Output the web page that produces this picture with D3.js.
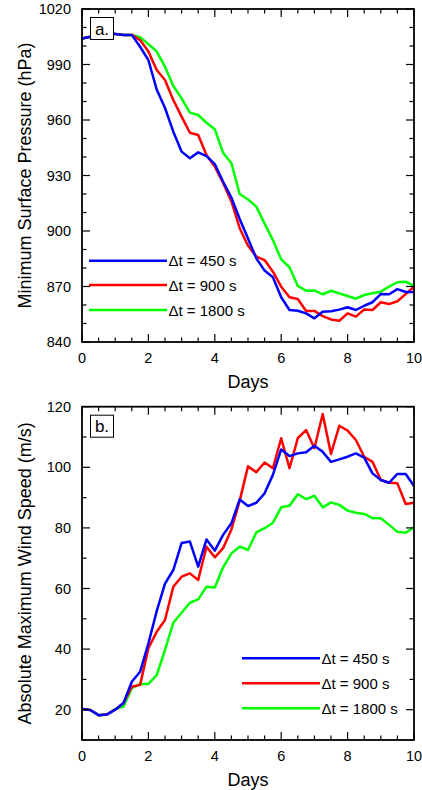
<!DOCTYPE html>
<html>
<head>
<meta charset="utf-8">
<script src="https://cdn.jsdelivr.net/npm/d3@7"></script>
<style>
  body { margin: 0; background: #fff; }
  svg text { font-family: "Liberation Sans", Arial, Helvetica, sans-serif; fill: #000; }
</style>
</head>
<body>
<svg id="chart" width="422" height="790"></svg>
<script>
const days = [0, 0.25, 0.5, 0.75, 1, 1.25, 1.5, 1.75, 2, 2.25, 2.5, 2.75, 3, 3.25, 3.5, 3.75, 4, 4.25, 4.5, 4.75,
  5, 5.25, 5.5, 5.75, 6, 6.25, 6.5, 6.75, 7, 7.25, 7.5, 7.75, 8, 8.25, 8.5, 8.75, 9, 9.25, 9.5, 9.75, 10];

const seriesLabels = ['Δt = 450 s', 'Δt = 900 s', 'Δt = 1800 s'];
const seriesColors = ['#0000ff', '#ff0000', '#00ff00'];

// panel a: minimum surface pressure (hPa)
const pres450 = [1004, 1005, 1006.3, 1007, 1006.5, 1006, 1006, 999.6, 992.4, 976.5, 966.5, 953.7, 942.9, 939.3, 942.5, 940.5,
  936.2, 926.6, 918, 906.5, 896, 885.2, 878.6, 875, 864.2, 857.3, 856.9, 855.5, 852.8, 856.4, 856.6, 857.5, 858.8, 857.3,
  859.6, 861.5, 865.9, 865.8, 868.6, 867, 867];
const pres900 = [1004, 1005, 1006.3, 1007, 1006.5, 1006, 1006, 1003.2, 997, 987, 981.6, 970.8, 961.8, 953.1, 951.9, 941.1,
  934.8, 926, 916, 901.5, 892, 886.2, 884.3, 878, 869.9, 864.2, 863.2, 856.8, 856.8, 854, 852.2, 851.5, 855.5, 853.7,
  857.6, 857.3, 861.5, 860.5, 862, 865.9, 869.9];
const pres1800 = [1004, 1005, 1006.3, 1007, 1006.5, 1006, 1006, 1004.7, 1001, 997, 988.8, 978.4, 971.7, 964, 962.7, 958.5,
  955, 942.3, 936.6, 920, 917, 913.2, 904, 895.1, 884.7, 880.4, 870.3, 867.7, 867.9, 865.8, 867.7, 866.3, 864.9, 863.4,
  865.4, 866.3, 867.2, 869.9, 872.3, 872.6, 870.3];

// panel b: absolute maximum wind speed (m/s)
const wind450 = [20.2, 19.9, 18.2, 18.4, 20, 22.2, 29.2, 32.5, 41.9, 52.5, 61.6, 66.1, 75, 75.5, 67.2, 76.2, 72.5, 77.7,
  81.5, 89.4, 87.2, 88.3, 91.4, 97.5, 105.9, 103.7, 104.6, 105, 107.1, 105.1, 101.8, 102.6, 103.5, 104.6, 103.2, 98,
  95.8, 94.9, 97.8, 97.8, 93.8];
const wind900 = [20.2, 19.9, 18.2, 18.5, 20, 22.2, 27.6, 28.2, 40.3, 45.7, 49.6, 60.6, 63.9, 65, 62.8, 73.8, 70.3, 73.3,
  79.5, 89, 100.3, 98.4, 101.6, 99.7, 109.6, 99.7, 109.6, 112.3, 106.3, 117.6, 104.4, 113.7, 112.1, 109, 103.5, 101.8,
  95.8, 94.9, 94.7, 87.9, 88.3];
const wind1800 = [20.2, 19.9, 18.2, 18.4, 20.2, 21, 27.1, 28.5, 28.5, 31.4, 39.7, 48.7, 52, 55.3, 56.4, 60.6, 60.3, 67,
  71.6, 73.8, 72.7, 78.5, 79.9, 81.7, 86.8, 87.3, 91.1, 89.5, 90.6, 86.8, 88.4, 87.6, 85.7, 85, 84.6, 83.2, 83.2, 81,
  78.7, 78.4, 80.2];

const xTicks = [0, 2, 4, 6, 8, 10];
const presTicks = [840, 870, 900, 930, 960, 990, 1020];
const windTicks = [20, 40, 60, 80, 100, 120];

const svg = d3.select('#chart');
const left = 82;
const right = 414;

const panels = [
  {
    top: 9, bottom: 342, domain: [840, 1020], ticks: presTicks, minorStep: 10,
    series: [pres450, pres900, pres1800], tag: 'a.', title: 'Minimum Surface Pressure (hPa)',
    legend: { x1: 89, x2: 167, ys: [260.7, 285, 310] },
  },
  {
    top: 406.7, bottom: 740, domain: [10, 120], ticks: windTicks, minorStep: 10,
    series: [wind450, wind900, wind1800], tag: 'b.', title: 'Absolute Maximum Wind Speed (m/s)',
    legend: { x1: 242, x2: 320, ys: [658.3, 683.3, 708.3] },
  },
];

const xScale = d3.scaleLinear().domain([0, 10]).range([left, right]);
const xMinor = d3.range(0, 10.001, 0.5);

panels.forEach((p) => {
  const g = svg.append('g');
  const yScale = d3.scaleLinear().domain(p.domain).range([p.bottom, p.top]);
  const yMinor = d3.range(p.domain[0], p.domain[1] + 0.001, p.minorStep);

  // data lines, clipped to the frame
  const clipId = 'clip-' + p.tag.replace('.', '');
  g.append('clipPath').attr('id', clipId)
    .append('rect').attr('x', left).attr('y', p.top).attr('width', right - left).attr('height', p.bottom - p.top);

  const line = d3.line().x((d) => xScale(d.day)).y((d) => yScale(d.value));
  const lines = g.append('g').attr('clip-path', `url(#${clipId})`);
  // draw green, red, blue so blue sits on top
  [2, 1, 0].forEach((i) => {
    const data = days.map((day, k) => ({ day, value: p.series[i][k] }));
    lines.append('path').datum(data)
      .attr('d', line)
      .attr('fill', 'none')
      .attr('stroke', seriesColors[i])
      .attr('stroke-width', 2.5)
      .attr('stroke-linejoin', 'round');
  });

  // inward ticks on all four sides
  const ticks = g.append('g').attr('stroke', '#000').attr('stroke-width', 1.2);
  xMinor.forEach((d) => {
    const len = xTicks.includes(d) ? 8 : 4.5;
    const x = xScale(d);
    ticks.append('line').attr('x1', x).attr('x2', x).attr('y1', p.bottom).attr('y2', p.bottom - len);
    ticks.append('line').attr('x1', x).attr('x2', x).attr('y1', p.top).attr('y2', p.top + len);
  });
  yMinor.forEach((v) => {
    const len = p.ticks.includes(v) ? 8 : 4.5;
    const y = yScale(v);
    ticks.append('line').attr('x1', left).attr('x2', left + len).attr('y1', y).attr('y2', y);
    ticks.append('line').attr('x1', right).attr('x2', right - len).attr('y1', y).attr('y2', y);
  });

  // frame
  g.append('rect')
    .attr('x', left).attr('y', p.top)
    .attr('width', right - left).attr('height', p.bottom - p.top)
    .attr('fill', 'none').attr('stroke', '#000').attr('stroke-width', 1.8);

  // tick labels
  g.selectAll('.xlab').data(xTicks).enter().append('text')
    .attr('x', (d) => xScale(d)).attr('y', p.bottom + 21)
    .attr('text-anchor', 'middle').attr('font-size', 14.5)
    .text((d) => d);
  g.selectAll('.ylab').data(p.ticks).enter().append('text')
    .attr('x', left - 11).attr('y', (d) => yScale(d) + 5)
    .attr('text-anchor', 'end').attr('font-size', 14.5)
    .text((d) => d);

  // axis titles
  g.append('text')
    .attr('x', (left + right) / 2).attr('y', p.bottom + 46)
    .attr('text-anchor', 'middle').attr('font-size', 18)
    .text('Days');
  g.append('text')
    .attr('transform', `translate(31, ${(p.top + p.bottom) / 2}) rotate(-90)`)
    .attr('text-anchor', 'middle').attr('font-size', 18)
    .text(p.title);

  // panel tag box
  g.append('rect')
    .attr('x', 90.5).attr('y', p.top + 8.5).attr('width', 23).attr('height', 22)
    .attr('fill', '#fff').attr('stroke', '#000').attr('stroke-width', 1);
  g.append('text')
    .attr('x', 102).attr('y', p.top + 25.5)
    .attr('text-anchor', 'middle').attr('font-size', 17)
    .text(p.tag);

  // legend
  seriesLabels.forEach((label, i) => {
    const y = p.legend.ys[i];
    g.append('line')
      .attr('x1', p.legend.x1).attr('x2', p.legend.x2).attr('y1', y).attr('y2', y)
      .attr('stroke', seriesColors[i]).attr('stroke-width', 2.5);
    g.append('text')
      .attr('x', p.legend.x2 + 1.5).attr('y', y + 5.5)
      .attr('font-size', 15)
      .text(label);
  });
});
</script>
</body>
</html>
